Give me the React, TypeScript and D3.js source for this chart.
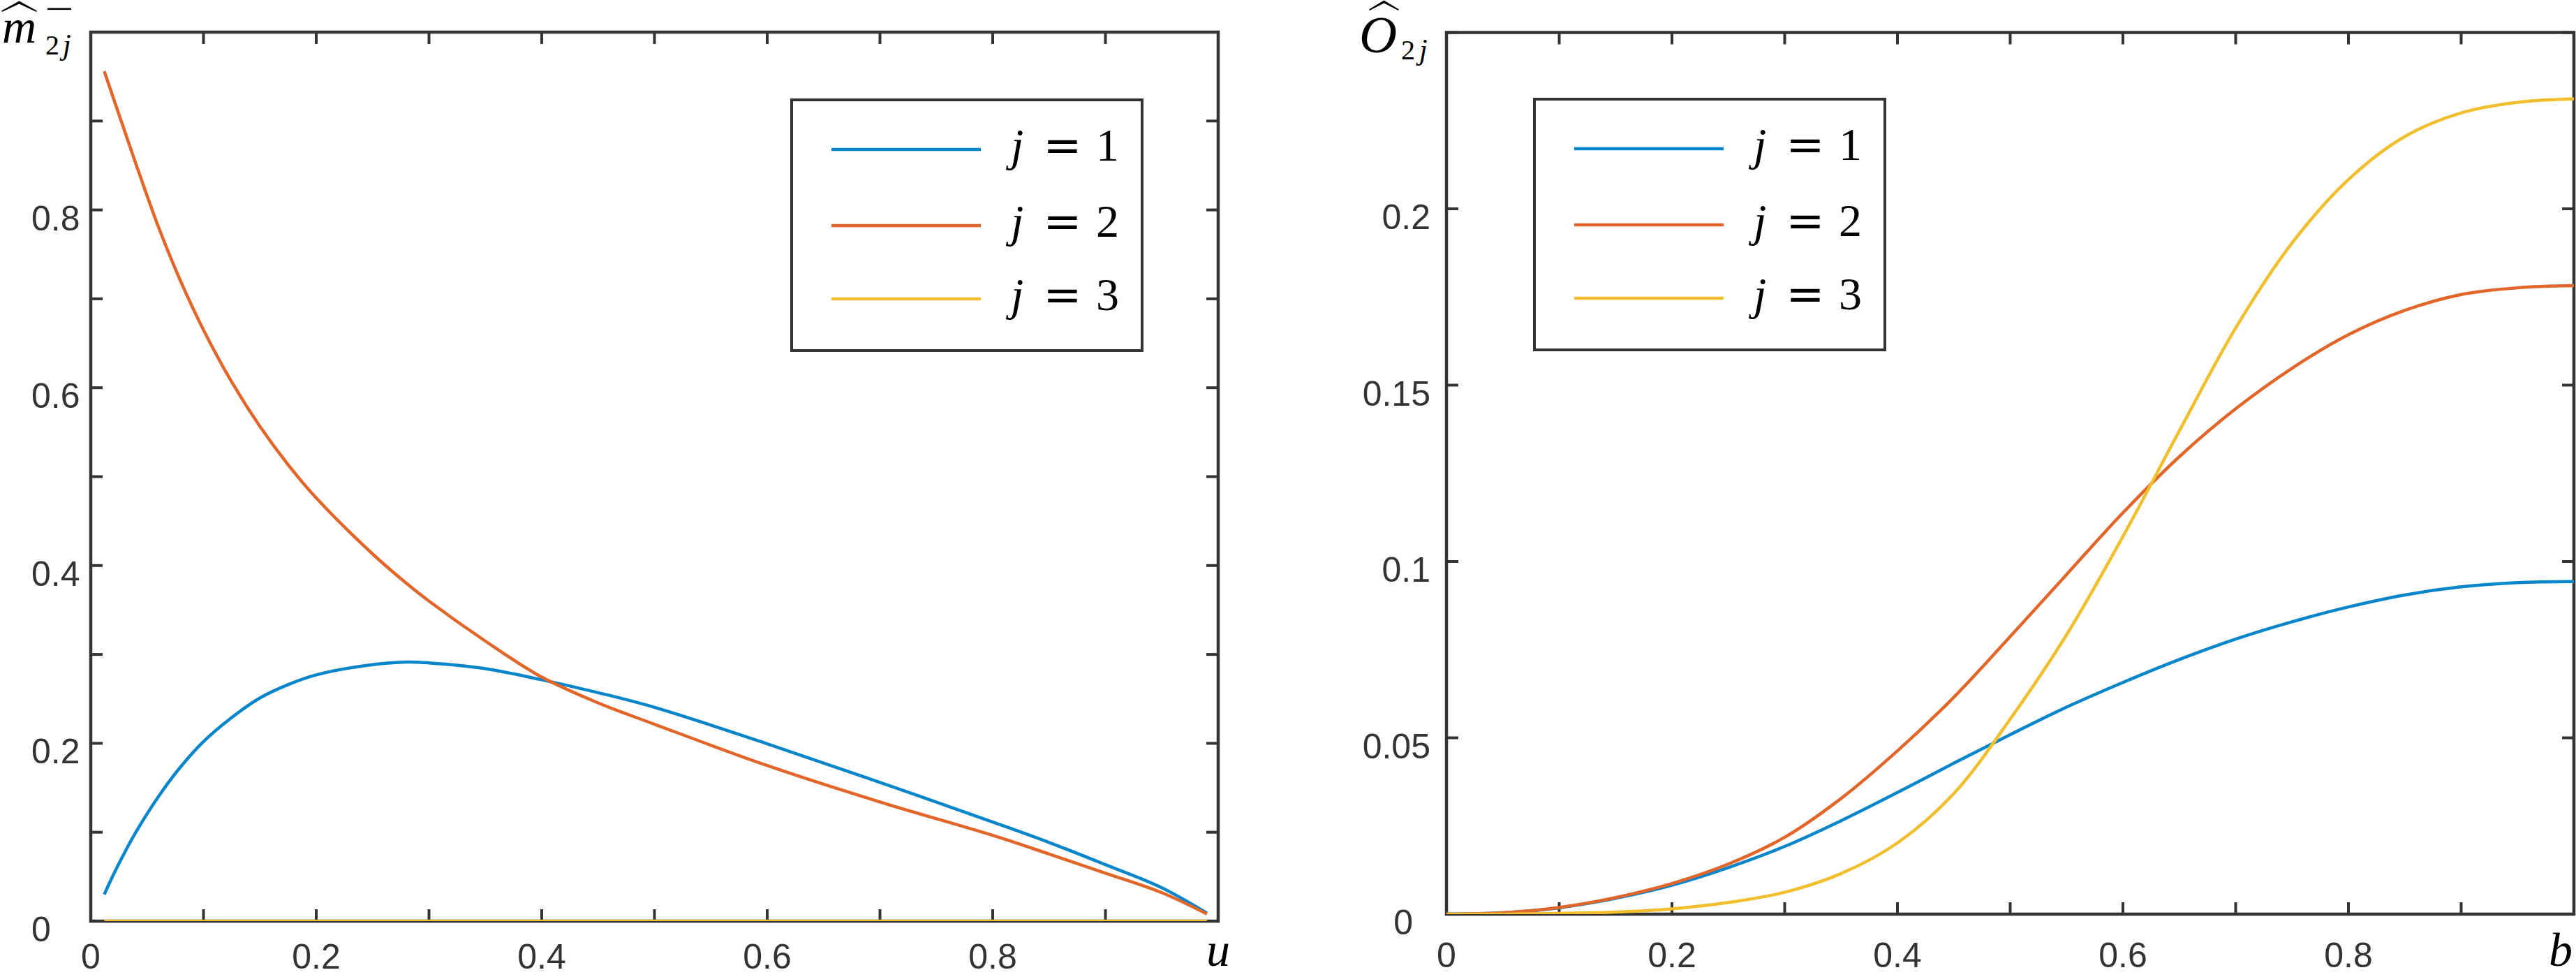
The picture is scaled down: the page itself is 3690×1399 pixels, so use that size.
import * as d3 from "d3";

// left panel: m-hat^-_{2j} against u
const leftU = [0.012, 0.02, 0.03, 0.04, 0.06, 0.08, 0.1, 0.125, 0.15, 0.175, 0.2, 0.25, 0.28, 0.3, 0.35, 0.4, 0.45, 0.5, 0.6, 0.7, 0.8, 0.85, 0.9, 0.95, 0.99];
const leftJ1 = [0.03, 0.052, 0.077, 0.1, 0.14, 0.174, 0.202, 0.229, 0.251, 0.266, 0.277, 0.2885, 0.2915, 0.2905, 0.284, 0.2715, 0.257, 0.2405, 0.1995, 0.156, 0.1115, 0.0885, 0.0635, 0.0375, 0.009];
const leftJ2 = [0.956, 0.926, 0.889, 0.852, 0.781, 0.719, 0.665, 0.6065, 0.5565, 0.5135, 0.476, 0.413, 0.38, 0.36, 0.315, 0.2745, 0.2455, 0.2215, 0.175, 0.134, 0.0965, 0.0755, 0.054, 0.032, 0.008];
const leftJ3 = [0, 0, 0, 0, 0, 0, 0, 0, 0, 0, 0, 0, 0, 0, 0, 0, 0, 0, 0, 0, 0, 0, 0, 0, 0];

// right panel: O-hat_{2j} against b
const rightB = [0, 0.05, 0.1, 0.15, 0.2, 0.25, 0.3, 0.35, 0.4, 0.45, 0.5, 0.55, 0.6, 0.65, 0.7, 0.75, 0.8, 0.85, 0.9, 0.95, 1.0];
const rightJ1 = [0, 0.0004, 0.0018, 0.0045, 0.0082, 0.0132, 0.0192, 0.0265, 0.0345, 0.0428, 0.0509, 0.0587, 0.0657, 0.0722, 0.078, 0.0829, 0.0871, 0.0905, 0.0928, 0.094, 0.0943];
const rightJ2 = [0, 0.0004, 0.0019, 0.0047, 0.0087, 0.0142, 0.0218, 0.0328, 0.0463, 0.0615, 0.0787, 0.0963, 0.1138, 0.1297, 0.1433, 0.1548, 0.1643, 0.1712, 0.1757, 0.1776, 0.1782];
const rightJ3 = [0, 0, 0.0002, 0.0006, 0.0015, 0.0033, 0.0062, 0.0115, 0.0202, 0.0342, 0.0553, 0.0792, 0.1071, 0.137, 0.1662, 0.1903, 0.2083, 0.2205, 0.2272, 0.2302, 0.2312];

const xTicks = [0, 0.1, 0.2, 0.3, 0.4, 0.5, 0.6, 0.7, 0.8, 0.9, 1];
const xTickLabels = ["0", "0.2", "0.4", "0.6", "0.8"];
const xTickLabelValues = [0, 0.2, 0.4, 0.6, 0.8];
const leftYTicks = [0, 0.1, 0.2, 0.3, 0.4, 0.5, 0.6, 0.7, 0.8, 0.9, 1];
const leftYLabels = ["0", "0.2", "0.4", "0.6", "0.8"];
const leftYLabelValues = [0, 0.2, 0.4, 0.6, 0.8];
const rightYTicks = [0, 0.05, 0.1, 0.15, 0.2, 0.25];
const rightYLabels = ["0", "0.05", "0.1", "0.15", "0.2"];
const rightYLabelValues = [0, 0.05, 0.1, 0.15, 0.2];

const jValues = ["1", "2", "3"];
const colors = ["#0886c9", "#e2662a", "#f1bf2d"];

const axisColor = "#333333";
const tickFont = "'Liberation Sans', Arial, Helvetica, sans-serif";
const mathFont = "'Liberation Serif', Tinos, 'DejaVu Serif', serif";

const tickLen = 17;

function Legend({ left, top }) {
  const rows = [71, 180, 285];
  return (
    <g>
      <rect x={left} y={top} width={502} height={359} fill="#fff" stroke={axisColor} strokeWidth={4} />
      {jValues.map((j, i) => {
        const ry = top + rows[i];
        return (
          <g key={j}>
            <line x1={left + 57} x2={left + 271} y1={ry} y2={ry} stroke={colors[i]} strokeWidth={4.5} />
            <text x={left + 314} y={ry + 16} fontFamily={mathFont} fontStyle="italic" fontSize={66} fill="#000">j</text>
            <text x={left + 388} y={ry + 16} fontFamily="'DejaVu Serif', serif" fontSize={66} textAnchor="middle" fill="#000">=</text>
            <text x={left + 436} y={ry + 16} fontFamily={mathFont} fontSize={66} fill="#000">{j}</text>
          </g>
        );
      })}
    </g>
  );
}

function Panel({ id, frame, yMax, yTicks, yLabels, yLabelValues, yLabelX, yLabelAnchor, zeroShift, xLabelY, xs, series, axisName, axisNameX, axisNameY, legend }) {
  const [x0, x1, yTop, yBottom] = frame;
  const x = d3.scaleLinear().domain([0, 1]).range([x0, x1]);
  const y = d3.scaleLinear().domain([0, yMax]).range([yBottom, yTop]);
  const line = d3
    .line()
    .x((_, i) => x(xs[i]))
    .y((d) => y(d))
    .curve(d3.curveCatmullRom.alpha(0.5));

  return (
    <g>
      <defs>
        <clipPath id={id}>
          <rect x={x0} y={yTop} width={x1 - x0} height={yBottom - yTop} />
        </clipPath>
      </defs>
      <rect x={x0} y={yTop} width={x1 - x0} height={yBottom - yTop} fill="none" stroke={axisColor} strokeWidth={4.5} />
      {xTicks.map((t) => (
        <g key={"x" + t}>
          <line x1={x(t)} x2={x(t)} y1={yBottom} y2={yBottom - tickLen} stroke={axisColor} strokeWidth={4} />
          <line x1={x(t)} x2={x(t)} y1={yTop} y2={yTop + tickLen} stroke={axisColor} strokeWidth={4} />
        </g>
      ))}
      {yTicks.map((t) => (
        <g key={"y" + t}>
          <line x1={x0} x2={x0 + tickLen} y1={y(t)} y2={y(t)} stroke={axisColor} strokeWidth={4} />
          <line x1={x1} x2={x1 - tickLen} y1={y(t)} y2={y(t)} stroke={axisColor} strokeWidth={4} />
        </g>
      ))}
      {xTickLabelValues.map((v, i) => (
        <text key={"xl" + v} x={x(v)} y={xLabelY} textAnchor="middle" fontFamily={tickFont} fontSize={50} fill={axisColor}>
          {xTickLabels[i]}
        </text>
      ))}
      {yLabelValues.map((v, i) => (
        <text
          key={"yl" + v}
          x={yLabelX - (v === 0 ? zeroShift : 0)}
          y={y(v) + 29}
          textAnchor={yLabelAnchor}
          fontFamily={tickFont}
          fontSize={50}
          fill={axisColor}
        >
          {yLabels[i]}
        </text>
      ))}
      <text x={axisNameX} y={axisNameY} textAnchor="middle" fontFamily={mathFont} fontStyle="italic" fontSize={68} fill="#000">
        {axisName}
      </text>
      <g clipPath={`url(#${id})`}>
        {series.map((s, i) => (
          <path key={i} d={line(s)} fill="none" stroke={colors[i]} strokeWidth={4.5} strokeLinejoin="round" />
        ))}
      </g>
      <Legend left={legend[0]} top={legend[1]} />
    </g>
  );
}

export default function App() {
  return (
    <div style={{ position: "absolute", left: 0, top: 0 }}>
      <style>{"body{margin:0;background:#fff}"}</style>
      <svg width={3690} height={1399} style={{ display: "block", background: "#fff" }}>
        {/* left y-axis name */}
        <path d="M2,15.5 L27.5,1.5 L53,15.5 L52,17 L27.5,5.5 L3,17 Z" fill="#000" />
        <rect x={68} y={11.5} width={34} height={2.6} fill="#000" />
        <text x={3} y={61} fontFamily={mathFont} fontStyle="italic" fontSize={68} fill="#000">m</text>
        <text x={65} y={78} fontFamily={mathFont} fontSize={40} fill="#000">2</text>
        <text x={90} y={78} fontFamily={mathFont} fontStyle="italic" fontSize={42} fill="#000">j</text>

        {/* right y-axis name */}
        <path d="M1961,13.5 L1982.5,0.5 L2004,13.5 L2003,15 L1982.5,4.5 L1962,15 Z" fill="#000" />
        <text x={1947} y={75} fontFamily={mathFont} fontStyle="italic" fontSize={75} fill="#000">O</text>
        <text x={2007} y={85} fontFamily={mathFont} fontSize={40} fill="#000">2</text>
        <text x={2033} y={85} fontFamily={mathFont} fontStyle="italic" fontSize={42} fill="#000">j</text>

        <Panel
          id="clip-left"
          frame={[130, 1745, 46, 1319]}
          yMax={1}
          yTicks={leftYTicks}
          yLabels={leftYLabels}
          yLabelValues={leftYLabelValues}
          yLabelX={45}
          yLabelAnchor="start"
          zeroShift={0}
          xLabelY={1387}
          xs={leftU}
          series={[leftJ1, leftJ2, leftJ3]}
          axisName="u"
          axisNameX={1745}
          axisNameY={1383}
          legend={[1134, 143]}
        />
        <Panel
          id="clip-right"
          frame={[2072, 3687, 46.5, 1309]}
          yMax={0.25}
          yTicks={rightYTicks}
          yLabels={rightYLabels}
          yLabelValues={rightYLabelValues}
          yLabelX={2049}
          yLabelAnchor="end"
          zeroShift={25}
          xLabelY={1385}
          xs={rightB}
          series={[rightJ1, rightJ2, rightJ3]}
          axisName="b"
          axisNameX={3668}
          axisNameY={1383}
          legend={[2198, 142]}
        />
      </svg>
    </div>
  );
}
